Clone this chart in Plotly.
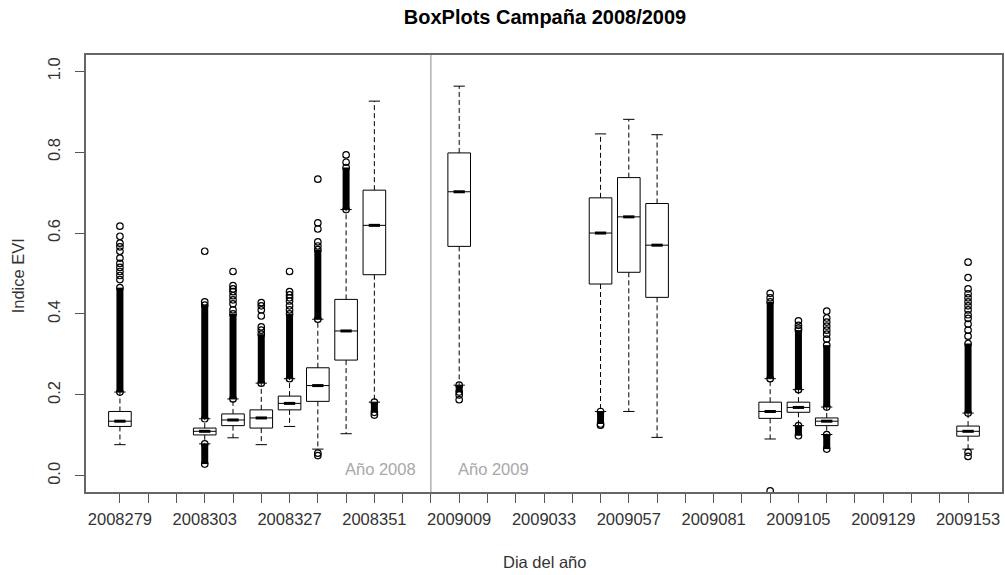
import plotly.graph_objects as go

# 8-day composite dates of the 2008/2009 season (one category each)
days = [
    "2008279", "2008287", "2008295", "2008303", "2008311", "2008319", "2008327",
    "2008335", "2008343", "2008351", "2008359",
    "2009001", "2009009", "2009017", "2009025", "2009033", "2009041", "2009049",
    "2009057", "2009065", "2009073", "2009081", "2009089", "2009097", "2009105",
    "2009113", "2009121", "2009129", "2009137", "2009145", "2009153",
]
tick_step = 3

# Box statistics (EVI) for the dates that have data
box_days = ["2008279", "2008303", "2008311", "2008319", "2008327", "2008335",
            "2008343", "2008351", "2009009", "2009049", "2009057", "2009065",
            "2009097", "2009105", "2009113", "2009153"]
whisker_lo = [0.077, 0.079, 0.094, 0.077, 0.122, 0.066, 0.104, 0.182,
              0.224, 0.159, 0.159, 0.095, 0.091, 0.124, 0.102, 0.066]
q1 = [0.122, 0.101, 0.124, 0.118, 0.163, 0.184, 0.286, 0.497,
      0.567, 0.474, 0.503, 0.441, 0.142, 0.157, 0.124, 0.098]
median = [0.135, 0.110, 0.138, 0.143, 0.179, 0.223, 0.358, 0.619,
          0.702, 0.600, 0.640, 0.570, 0.159, 0.169, 0.135, 0.110]
q3 = [0.159, 0.118, 0.153, 0.163, 0.197, 0.267, 0.436, 0.706,
      0.798, 0.687, 0.737, 0.673, 0.182, 0.182, 0.143, 0.123]
whisker_hi = [0.207, 0.141, 0.190, 0.229, 0.240, 0.387, 0.658, 0.926,
              0.963, 0.845, 0.881, 0.843, 0.240, 0.213, 0.170, 0.155]

# Runs of outliers so dense that the circles merge into a solid column
run_days = ["2008279", "2008303", "2008303", "2008311", "2008319", "2008327",
            "2008335", "2008343", "2008351", "2009009", "2009049", "2009097",
            "2009105", "2009105", "2009113", "2009113", "2009153"]
run_from = [0.207, 0.141, 0.029, 0.190, 0.229, 0.240, 0.387, 0.658, 0.157,
            0.207, 0.128, 0.240, 0.213, 0.099, 0.170, 0.066, 0.155]
run_to = [0.465, 0.422, 0.079, 0.400, 0.350, 0.400, 0.559, 0.762, 0.182,
          0.224, 0.159, 0.430, 0.360, 0.124, 0.323, 0.102, 0.327]

# Isolated outliers
out_days = (["2008279"] * 11 + ["2008303"] * 2 + ["2008311"] * 8
            + ["2008319"] * 6 + ["2008327"] * 7 + ["2008335"] * 7
            + ["2008343"] * 2 + ["2008351"] + ["2009009"] * 2 + ["2009049"]
            + ["2009097"] * 3 + ["2009105"] * 3 + ["2009113"] * 7
            + ["2009153"] * 15)
out_values = ([0.617, 0.592, 0.575, 0.566, 0.555, 0.538, 0.525, 0.515, 0.505, 0.495, 0.485]
              + [0.555, 0.430]
              + [0.505, 0.470, 0.462, 0.455, 0.445, 0.435, 0.425, 0.410]
              + [0.428, 0.420, 0.410, 0.395, 0.368, 0.360]
              + [0.505, 0.455, 0.447, 0.440, 0.432, 0.420, 0.410]
              + [0.733, 0.625, 0.610, 0.578, 0.568, 0.056, 0.050]
              + [0.793, 0.775]
              + [0.150]
              + [0.200, 0.188]
              + [0.125]
              + [0.451, 0.440, -0.037]
              + [0.383, 0.372, 0.365]
              + [0.407, 0.390, 0.380, 0.370, 0.360, 0.350, 0.338]
              + [0.528, 0.490, 0.462, 0.450, 0.440, 0.430, 0.420, 0.410,
                 0.398, 0.389, 0.375, 0.360, 0.345, 0.058, 0.048])

y_ticks = [0.0, 0.2, 0.4, 0.6, 0.8, 1.0]
year_labels = ["Año 2008", "Año 2009"]
year_label_x = [9.2, 13.2]
year_split = "2009001"

pos = {d: i for i, d in enumerate(days)}
bx = [pos[d] for d in box_days]
box_w = 0.8
staple_half = box_w / 4
median_half = box_w / 4

fig = go.Figure()

# boxes (whiskers drawn separately as dashed lines)
fig.add_trace(go.Box(
    x=bx, q1=q1, median=median, q3=q3, lowerfence=q1, upperfence=q3,
    width=box_w, whiskerwidth=0, boxpoints=False, fillcolor="white",
    line=dict(color="black", width=1), hoverinfo="skip", showlegend=False,
))

# dashed whiskers
wx, wy = [], []
for x, lo, a, b, hi in zip(bx, whisker_lo, q1, q3, whisker_hi):
    wx += [x, x, None, x, x, None]
    wy += [b, hi, None, a, lo, None]
fig.add_trace(go.Scatter(x=wx, y=wy, mode="lines",
                         line=dict(color="black", width=1, dash="5px,3px"),
                         hoverinfo="skip", showlegend=False))

# staples
sx, sy = [], []
for x, lo, hi in zip(bx, whisker_lo, whisker_hi):
    sx += [x - staple_half, x + staple_half, None, x - staple_half, x + staple_half, None]
    sy += [lo, lo, None, hi, hi, None]
fig.add_trace(go.Scatter(x=sx, y=sy, mode="lines",
                         line=dict(color="black", width=1),
                         hoverinfo="skip", showlegend=False))

# solid outlier columns
rx, ry = [], []
for d, a, b in zip(run_days, run_from, run_to):
    rx += [pos[d], pos[d], None]
    ry += [a, b, None]
fig.add_trace(go.Scatter(x=rx, y=ry, mode="lines+markers",
                         line=dict(color="black", width=7),
                         marker=dict(symbol="circle-open", size=6.5, color="black",
                                     line=dict(width=1.2)),
                         hoverinfo="skip", showlegend=False))

# isolated outliers
fig.add_trace(go.Scatter(x=[pos[d] for d in out_days], y=out_values, mode="markers",
                         marker=dict(symbol="circle-open", size=6.5, color="black",
                                     line=dict(width=1.2)),
                         hoverinfo="skip", showlegend=False))

# thick medians over the central half of each box
mx, my = [], []
for x, m in zip(bx, median):
    mx += [x - median_half, x + median_half, None]
    my += [m, m, None]
fig.add_trace(go.Scatter(x=mx, y=my, mode="lines",
                         line=dict(color="black", width=3),
                         hoverinfo="skip", showlegend=False))

# separator between the two years
fig.add_shape(type="line", xref="x", yref="paper", x0=pos[year_split], x1=pos[year_split],
              y0=0, y1=1, line=dict(color="#8a8a8a", width=1))

for txt, x in zip(year_labels, year_label_x):
    fig.add_annotation(x=x, y=0.017, xref="x", yref="y", text=txt, showarrow=False,
                       font=dict(size=16.5, color="#a8a8a8"),
                       xanchor="center", yanchor="middle")

fig.add_annotation(x=0.5, y=-0.1595, xref="paper", yref="paper", text="Dia del año",
                   showarrow=False, font=dict(size=16.5, color="#333333"),
                   xanchor="center", yanchor="middle")
fig.add_annotation(x=-0.074, y=0.494, xref="paper", yref="paper", text="Indice EVI",
                   textangle=-90, showarrow=False, font=dict(size=16.5, color="#333333"),
                   xanchor="center", yanchor="middle")

axis_common = dict(showline=True, mirror=True, linecolor="#666666", linewidth=1.5,
                   ticks="outside", ticklen=9, tickcolor="#555555", tickwidth=1.2,
                   showgrid=False, zeroline=False,
                   tickfont=dict(size=16.5, color="#333333"))

fig.update_layout(
    width=1005, height=575,
    margin=dict(l=86, r=1, t=55, b=83),
    paper_bgcolor="white", plot_bgcolor="white",
    font=dict(family="Liberation Sans, Arial, sans-serif"),
    title=dict(text="<b>BoxPlots Campaña 2008/2009</b>", x=545 / 1005, xanchor="center",
               y=1 - 17 / 575, yanchor="middle", yref="container",
               font=dict(size=20, color="black")),
    xaxis=dict(range=[-1.2, len(days) - 1 + 1.2],
               tickvals=list(range(len(days))),
               ticktext=[d if i % tick_step == 0 else "" for i, d in enumerate(days)],
               ticklabelstandoff=2,
               **axis_common),
    yaxis=dict(range=[-0.04, 1.04], tickvals=y_ticks,
               ticktext=[f"{v:.1f}" for v in y_ticks], tickangle=-90,
               ticklabelstandoff=9,
               **axis_common),
    showlegend=False,
)

fig.write_html("out.html")
